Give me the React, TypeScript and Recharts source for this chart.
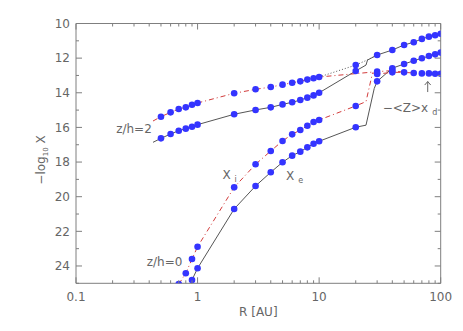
import React from "react";
import { LineChart, Line, XAxis, YAxis, ReferenceDot } from "recharts";

// ---- tick positions / labels ----
const R_TICKS = [0.1, 0.2, 0.3, 0.4, 0.5, 0.6, 0.7, 0.8, 0.9, 1, 2, 3, 4, 5, 6, 7, 8, 9, 10, 20, 30, 40, 50, 60, 70, 80, 90, 100];
const R_MAJOR = [0.1, 1, 10, 100];
const R_LABELS = ["0.1", "1", "10", "100"];
const Y_TICKS = [10, 11, 12, 13, 14, 15, 16, 17, 18, 19, 20, 21, 22, 23, 24, 25];
const Y_LABELS = [10, 12, 14, 16, 18, 20, 22, 24];

// ---- z/h = 2 : ion fraction (red dash-dot) ----
const xi2R = [0.43, 0.5, 0.6, 0.7, 0.8, 0.9, 1, 2, 3, 4, 5, 6, 7, 8, 9, 10, 30, 40, 50];
const xi2V = [15.63, 15.38, 15.13, 14.94, 14.84, 14.69, 14.59, 14.03, 13.8, 13.67, 13.53, 13.42, 13.34, 13.24, 13.16, 13.09, 12.78, 12.72, 12.82];
const xi2M = [0, 1, 1, 1, 1, 1, 1, 1, 1, 1, 1, 1, 1, 1, 1, 1, 1, 1, 0];

// ---- z/h = 2 : electron fraction (black solid) ----
const xe2R = [0.43, 0.5, 0.6, 0.7, 0.8, 0.9, 1, 2, 3, 4, 5, 6, 7, 8, 9, 10, 20, 24.3, 25, 30, 40, 50, 60, 70, 80, 90, 100];
const xe2V = [16.86, 16.63, 16.38, 16.19, 16.07, 15.96, 15.84, 15.24, 14.99, 14.84, 14.67, 14.55, 14.42, 14.28, 14.15, 14.0, 12.74, 12.4, 12.11, 11.82, 11.53, 11.24, 11.08, 10.89, 10.76, 10.68, 10.59];
const xe2M = [0, 1, 1, 1, 1, 1, 1, 1, 1, 1, 1, 1, 1, 1, 1, 1, 1, 0, 0, 1, 1, 1, 1, 1, 1, 1, 1];

// ---- z/h = 2 : dotted branch ----
const dotR = [10, 20, 25, 30];
const dotV = [13.09, 12.4, 12.1, 11.82];
const dotM = [0, 1, 0, 0];

// ---- z/h = 0 : ion fraction (red dash-dot) ----
const xi0R = [0.7, 0.8, 0.9, 1, 2, 3, 4, 5, 6, 7, 8, 9, 10, 20, 24.3, 27.5, 30, 40, 50, 60, 70, 80, 90, 100];
const xi0V = [25.05, 24.42, 23.6, 22.89, 19.46, 18.13, 17.36, 16.78, 16.4, 16.15, 15.9, 15.69, 15.57, 14.76, 14.51, 12.85, 12.92, 12.82, 12.82, 12.86, 12.88, 12.88, 12.9, 12.9];
const xi0M = [1, 1, 1, 1, 1, 1, 1, 1, 1, 1, 1, 1, 1, 1, 0, 0, 1, 1, 1, 1, 1, 1, 1, 1];

// ---- z/h = 0 : electron fraction (black solid) ----
const xe0R = [0.88, 0.9, 1, 2, 3, 4, 5, 6, 7, 8, 9, 10, 20, 24.3, 28.4, 30, 40, 50, 60, 70, 80, 90, 100];
const xe0V = [25.1, 24.81, 24.13, 20.71, 19.38, 18.59, 18.01, 17.63, 17.4, 17.15, 16.94, 16.8, 15.99, 15.87, 13.75, 13.34, 12.58, 12.34, 12.15, 12.01, 11.88, 11.78, 11.68];
const xe0M = [0, 1, 1, 1, 1, 1, 1, 1, 1, 1, 1, 1, 1, 0, 0, 1, 1, 1, 1, 1, 1, 1, 1];

const build = (r: number[], v: number[], m: number[]) => r.map((x, i) => ({ r: x, v: v[i], m: m[i] }));

const AXIS = "#7f7f7f";
const TXT = "#666";
const RED = "#d23c3c";
const BLK = "#555";
const BLUE = "#3434ff";
const FONT = "DejaVu Sans, sans-serif";

const dotFn = (p: any) =>
  p.payload && p.payload.m ? (
    <circle key={`d${p.index}`} cx={p.cx} cy={p.cy} r={3.3} fill={BLUE} stroke="none" />
  ) : (
    <g key={`d${p.index}`} />
  );

const isMajor = (v: number) => R_MAJOR.indexOf(v) >= 0;

const BottomTick = (p: any) => {
  const v = p.payload.value;
  const maj = isMajor(v);
  return (
    <g>
      <line x1={p.x} x2={p.x} y1={p.y} y2={p.y - (maj ? 6 : 3)} stroke={AXIS} strokeWidth={1} />
      {maj && (
        <text x={p.x} y={p.y + 13.4} dy="0.35em" textAnchor="middle" fill={TXT} fontSize={12} fontFamily={FONT}>
          {R_LABELS[R_MAJOR.indexOf(v)]}
        </text>
      )}
    </g>
  );
};
const TopTick = (p: any) => {
  const maj = isMajor(p.payload.value);
  return <line x1={p.x} x2={p.x} y1={p.y} y2={p.y + (maj ? 6 : 3)} stroke={AXIS} strokeWidth={1} />;
};
const LeftTick = (p: any) => {
  const v = p.payload.value;
  const maj = Y_LABELS.indexOf(v) >= 0;
  return (
    <g>
      <line x1={p.x} x2={p.x + (maj ? 6 : 3)} y1={p.y} y2={p.y} stroke={AXIS} strokeWidth={1} />
      {maj && (
        <text x={p.x - 6} y={p.y} dy="0.35em" textAnchor="end" fill={TXT} fontSize={12} fontFamily={FONT}>
          {v}
        </text>
      )}
    </g>
  );
};
const RightTick = (p: any) => {
  const maj = Y_LABELS.indexOf(p.payload.value) >= 0;
  return <line x1={p.x} x2={p.x - (maj ? 6 : 3)} y1={p.y} y2={p.y} stroke={AXIS} strokeWidth={1} />;
};

const txt = { fill: TXT, fontSize: 12, fontFamily: FONT } as const;

const center = (props: any) => {
  const vb = props.viewBox || {};
  return { cx: (vb.x || 0) + (vb.width || 0) / 2, cy: (vb.y || 0) + (vb.height || 0) / 2 };
};

const PlainLabel = (text: string, anchor: "start" | "middle" | "end") => (props: any) => {
  const { cx, cy } = center(props);
  return (
    <text x={cx} y={cy} dy="0.35em" textAnchor={anchor} {...txt}>
      {text}
    </text>
  );
};
const SubLabel = (main: string, sub: string) => (props: any) => {
  const { cx, cy } = center(props);
  return (
    <text x={cx} y={cy} dy="0.35em" textAnchor="start" {...txt}>
      {main}
      <tspan fontSize={8} dx={4} dy={3}>
        {sub}
      </tspan>
    </text>
  );
};
const ArrowLabel = (props: any) => {
  const { cx, cy } = center(props);
  return (
    <path
      d={`M${cx},${cy + 5.5} L${cx},${cy - 5} M${cx - 3},${cy - 1.5} L${cx},${cy - 5} L${cx + 3},${cy - 1.5}`}
      stroke={TXT}
      fill="none"
      strokeWidth={1}
    />
  );
};

const XLabel = (props: any) => {
  const vb = props.viewBox || {};
  return (
    <text x={vb.x + vb.width / 2} y={vb.y + 28.7} dy="0.35em" textAnchor="middle" {...txt}>
      R  [AU]
    </text>
  );
};
const YLabel = (props: any) => {
  const vb = props.viewBox || {};
  const x = vb.x + 5;
  const y = 160;
  return (
    <text x={x} y={y} dy="0.35em" textAnchor="middle" transform={`rotate(-90 ${x} ${y})`} {...txt}>
      −log
      <tspan fontSize={7} dy={3}>
        10
      </tspan>
      <tspan dy={-3}> X</tspan>
    </text>
  );
};

export default function App() {
  const common = { type: "linear" as const, dataKey: "v", isAnimationActive: false, dot: dotFn, activeDot: false as const, strokeWidth: 1 };
  const xe2 = build(xe2R, xe2V, xe2M);
  return (
    <div style={{ position: "absolute", left: 0, top: 0, background: "#fff" }}>
      <LineChart width={463} height={331} margin={{ top: 22.5, right: 21.3, bottom: 17.7, left: 36 }}>
        <XAxis
          dataKey="r"
          type="number"
          scale="log"
          domain={[0.1, 100]}
          allowDataOverflow
          ticks={R_TICKS}
          interval={0}
          tickSize={0}
          tickMargin={0}
          tickLine={false}
          tick={BottomTick}
          height={30}
          axisLine={{ stroke: AXIS }}
          label={{ content: XLabel }}
        />
        <XAxis
          xAxisId="top"
          orientation="top"
          dataKey="r"
          type="number"
          scale="log"
          domain={[0.1, 100]}
          allowDataOverflow
          ticks={R_TICKS}
          interval={0}
          tickSize={0}
          tickMargin={0}
          tickLine={false}
          tick={TopTick}
          height={1}
          axisLine={{ stroke: AXIS }}
        />
        <YAxis
          type="number"
          domain={[10, 25]}
          reversed
          allowDataOverflow
          ticks={Y_TICKS}
          interval={0}
          tickSize={0}
          tickMargin={0}
          tickLine={false}
          tick={LeftTick}
          width={40}
          axisLine={{ stroke: AXIS }}
          label={{ content: YLabel }}
        />
        <YAxis
          yAxisId="right"
          orientation="right"
          type="number"
          domain={[10, 25]}
          reversed
          allowDataOverflow
          ticks={Y_TICKS}
          interval={0}
          tickSize={0}
          tickMargin={0}
          tickLine={false}
          tick={RightTick}
          width={1}
          axisLine={{ stroke: AXIS }}
        />
        {/* invisible copy tying the mirrored top/right frame axes to the data */}
        <Line
          xAxisId="top"
          yAxisId="right"
          data={xe2}
          dataKey="v"
          stroke="none"
          dot={false}
          activeDot={false}
          isAnimationActive={false}
        />
        <Line {...common} data={build(dotR, dotV, dotM)} stroke={BLK} strokeDasharray="1 2" />
        <Line {...common} data={xe2} stroke={BLK} />
        <Line {...common} data={build(xi2R, xi2V, xi2M)} stroke={RED} strokeDasharray="5 3 1 3" />
        <Line {...common} data={build(xe0R, xe0V, xe0M)} stroke={BLK} />
        <Line {...common} data={build(xi0R, xi0V, xi0M)} stroke={RED} strokeDasharray="5 3 1 3" />
        <ReferenceDot x={0.42} y={16.1} r={0} fill="none" stroke="none" label={{ content: PlainLabel("z/h=2", "end") }} />
        <ReferenceDot x={0.75} y={23.77} r={0} fill="none" stroke="none" label={{ content: PlainLabel("z/h=0", "end") }} />
        <ReferenceDot x={1.6} y={18.75} r={0} fill="none" stroke="none" label={{ content: SubLabel("X", "i") }} />
        <ReferenceDot x={5.35} y={18.79} r={0} fill="none" stroke="none" label={{ content: SubLabel("X", "e") }} />
        <ReferenceDot x={33.3} y={14.84} r={0} fill="none" stroke="none" label={{ content: SubLabel("−<Z>x", "d") }} />
        <ReferenceDot x={78.2} y={13.64} r={0} fill="none" stroke="none" label={{ content: ArrowLabel }} />
      </LineChart>
    </div>
  );
}
